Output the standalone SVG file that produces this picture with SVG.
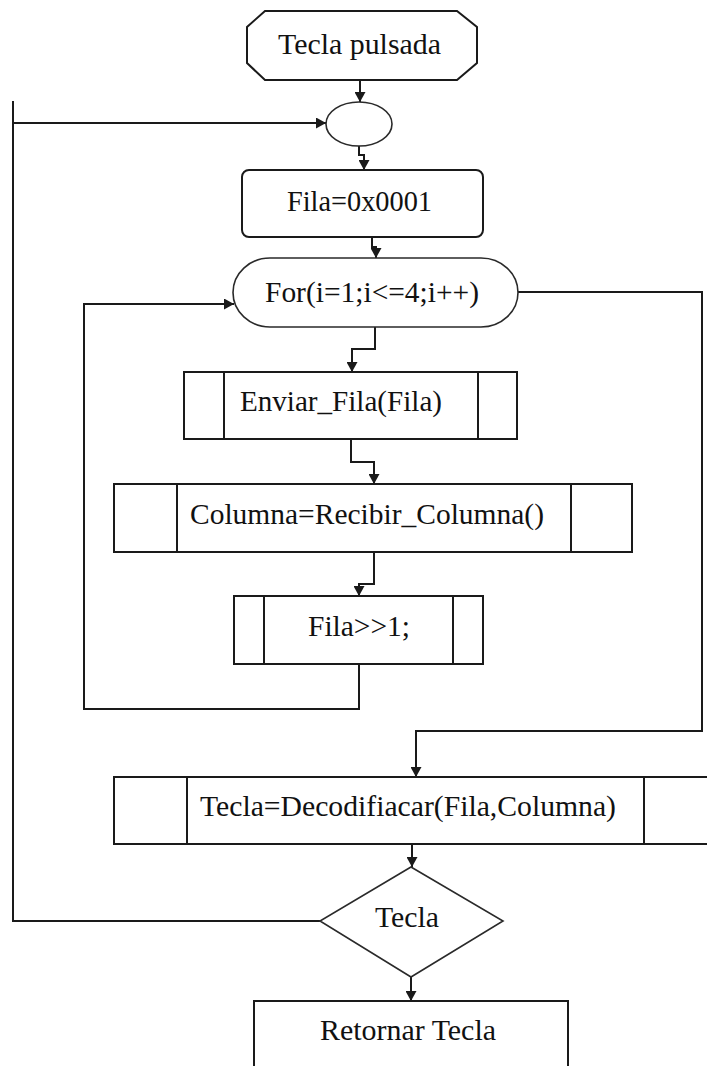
<svg xmlns="http://www.w3.org/2000/svg" width="707" height="1066" viewBox="0 0 707 1066">
  <style>
    .shape { fill: #ffffff; stroke: #1a1a1a; stroke-width: 2; }
    .thin { fill: #ffffff; stroke: #2a2a2a; stroke-width: 1.6; }
    .div { stroke: #1a1a1a; stroke-width: 2; fill: none; }
    .wire { fill: none; stroke: #1a1a1a; stroke-width: 2; marker-end: url(#arrow); }
    .plain { fill: none; stroke: #1a1a1a; stroke-width: 2; }
    .lbl { font-family: "Liberation Serif", "Times New Roman", serif; font-size: 30px; fill: #111111; }
  </style>
  <defs>
    <marker id="arrow" markerUnits="userSpaceOnUse" markerWidth="10" markerHeight="11" viewBox="0 0 10 11" refX="10" refY="5.5" orient="auto">
      <path d="M0,0 L10,5.5 L0,11 z" fill="#1a1a1a"/>
    </marker>
  </defs>
  <rect x="0" y="0" width="707" height="1066" fill="#ffffff"/>

  <!-- connectors -->
  <g id="connectors">
    <path class="wire" d="M360 80 V102"/>
    <path class="wire" d="M359 146 V155 H364 V170"/>
    <path class="wire" d="M372 237 V247 H376 V258"/>
    <path class="wire" d="M375 327 V349 H352 V372"/>
    <path class="wire" d="M351 439 V462 H374 V484"/>
    <path class="wire" d="M374 552 V584 H359 V596"/>
    <path class="wire" d="M359 664 V709 H84 V304 H234"/>
    <path class="wire" d="M518 292 H702 V731 H416 V777"/>
    <path class="wire" d="M412 844 V867"/>
    <path class="wire" d="M411 977 V1001"/>
    <path class="plain" d="M320 921 H13 V101"/>
    <path class="wire" d="M13 123 H326"/>
  </g>

  <g id="start">
    <polygon class="shape" points="265,11 457,11 477,27 477,63 457,80 265,80 247,63 247,27"/>
    <text class="lbl" x="278" y="54" textLength="163" lengthAdjust="spacingAndGlyphs">Tecla pulsada</text>
  </g>

  <g id="join">
    <ellipse class="thin" cx="359" cy="124" rx="33" ry="22"/>
  </g>

  <g id="init">
    <rect class="shape" x="242" y="170" width="241" height="67" rx="7" ry="7"/>
    <text class="lbl" x="287" y="211" textLength="145" lengthAdjust="spacingAndGlyphs">Fila=0x0001</text>
  </g>

  <g id="loop">
    <rect class="thin" x="233" y="258" width="285" height="69" rx="37" ry="34.5"/>
    <text class="lbl" x="265" y="302" textLength="214" lengthAdjust="spacingAndGlyphs">For(i=1;i&lt;=4;i++)</text>
  </g>

  <g id="send">
    <rect class="shape" x="184" y="372" width="333" height="67"/>
    <path class="div" d="M224 372 V439 M478 372 V439"/>
    <text class="lbl" x="240" y="411" textLength="202" lengthAdjust="spacingAndGlyphs">Enviar_Fila(Fila)</text>
  </g>

  <g id="receive">
    <rect class="shape" x="114" y="484" width="518" height="68"/>
    <path class="div" d="M177 484 V552 M571 484 V552"/>
    <text class="lbl" x="190" y="524" textLength="354" lengthAdjust="spacingAndGlyphs">Columna=Recibir_Columna()</text>
  </g>

  <g id="shift">
    <rect class="shape" x="234" y="596" width="249" height="68"/>
    <path class="div" d="M264 596 V664 M453 596 V664"/>
    <text class="lbl" x="308" y="636" textLength="102" lengthAdjust="spacingAndGlyphs">Fila&gt;&gt;1;</text>
  </g>

  <g id="decode">
    <rect class="shape" x="114" y="777" width="620" height="67"/>
    <path class="div" d="M187 777 V844 M644 777 V844"/>
    <text class="lbl" x="200" y="816" textLength="416" lengthAdjust="spacingAndGlyphs">Tecla=Decodifiacar(Fila,Columna)</text>
  </g>

  <g id="check">
    <polygon class="thin" points="411,867 503,921 411,977 320,921"/>
    <text class="lbl" x="375" y="927" textLength="64" lengthAdjust="spacingAndGlyphs">Tecla</text>
  </g>

  <g id="result">
    <rect class="shape" x="254" y="1001" width="314" height="80"/>
    <text class="lbl" x="320" y="1040" textLength="176" lengthAdjust="spacingAndGlyphs">Retornar Tecla</text>
  </g>
</svg>
